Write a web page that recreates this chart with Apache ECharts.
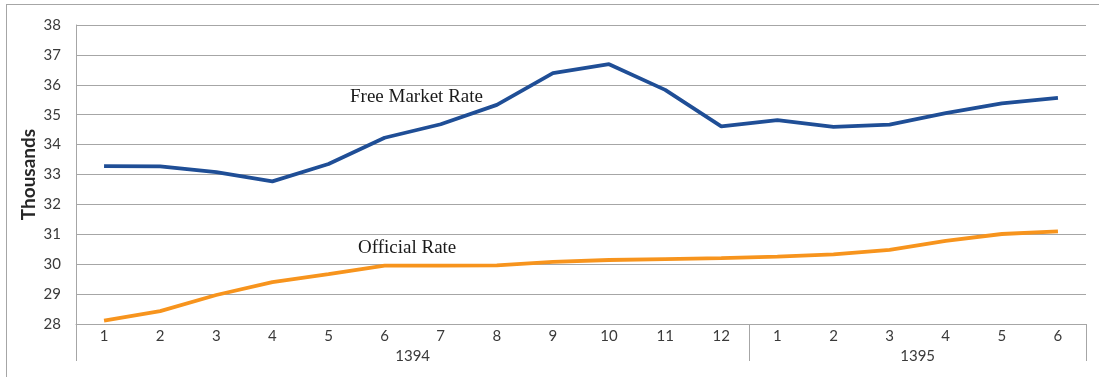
<!DOCTYPE html>
<html>
<head>
<meta charset="utf-8">
<script src="https://cdn.jsdelivr.net/npm/echarts@6/dist/echarts.min.js"></script>
<style>
html,body{margin:0;padding:0;background:#fff;overflow:hidden;}
#frame{position:absolute;left:6px;top:4px;width:1200px;height:500px;border:1px solid #a6a6a6;}
#chart{position:absolute;left:0;top:0;width:1099px;height:377px;}
</style>
</head>
<body>
<div id="frame"></div>
<div id="chart"></div>
<script>
const months = ['1','2','3','4','5','6','7','8','9','10','11','12','1','2','3','4','5','6'];
const years = ['1394','1395'];
const yearCenters = [6, 15];
const yearBounds = [0, 12, 18];
const freeMarket = [33.28,33.27,33.08,32.77,33.35,34.23,34.68,35.33,36.39,36.69,35.83,34.61,34.82,34.59,34.67,35.05,35.38,35.56];
const official = [28.11,28.43,28.97,29.40,29.67,29.95,29.95,29.96,30.08,30.14,30.17,30.20,30.25,30.33,30.48,30.78,31.01,31.10];
const yTicks = {min:28, max:38, interval:1};

const chart = echarts.init(document.getElementById('chart'), null, {renderer:'canvas'});
const lblFont = 'Lato, "Open Sans", sans-serif';
const grey = '#a6a6a6';
chart.setOption({
  animation:false,
  grid:{left:76, right:13, top:25, bottom:53, containLabel:false},
  xAxis:[{
    type:'category', data:months, boundaryGap:true, position:'bottom',
    axisLine:{show:true, lineStyle:{color:grey, width:1}},
    axisTick:{show:false},
    axisLabel:{color:'#3a3a3a', fontFamily:lblFont, fontSize:15, margin:5},
    splitLine:{show:false}
  },{
    type:'value', min:0, max:18, position:'bottom', offset:0,
    axisLine:{show:false},
    axisTick:{show:true, inside:false, length:37, customValues:yearBounds, lineStyle:{color:grey, width:1}},
    axisLabel:{show:true, customValues:yearCenters, margin:25, color:'#3a3a3a', fontFamily:lblFont, fontSize:15,
      formatter:function(v){ const i = yearCenters.indexOf(v); return i>=0 ? years[i] : ''; }},
    splitLine:{show:false}
  }],
  yAxis:{
    type:'value', min:yTicks.min, max:yTicks.max, interval:yTicks.interval,
    name:'Thousands', nameLocation:'middle', nameRotate:90, nameGap:38, nameMoveOverlap:false,
    nameTextStyle:{color:'#262626', fontFamily:lblFont, fontSize:19, fontWeight:'bold'},
    axisLine:{show:true, lineStyle:{color:grey, width:1}},
    axisTick:{show:false},
    axisLabel:{color:'#3a3a3a', fontFamily:lblFont, fontSize:15, margin:15},
    splitLine:{show:true, lineStyle:{color:grey, width:1}}
  },
  series:[{
    name:'Free Market Rate', type:'line', data:freeMarket, xAxisIndex:0,
    symbol:'none', lineStyle:{color:'#1f4e96', width:3.8}, z:3
  },{
    name:'Official Rate', type:'line', data:official, xAxisIndex:0,
    symbol:'none', lineStyle:{color:'#f7941d', width:3.8}, z:3
  }],
  graphic:[
    {type:'text', left:350, top:88, style:{text:'Free Market Rate', font:'19px "Liberation Serif", "DejaVu Serif", serif', fill:'#1a1a1a'}},
    {type:'text', left:358, top:239, style:{text:'Official Rate', font:'19px "Liberation Serif", "DejaVu Serif", serif', fill:'#1a1a1a'}}
  ]
});
</script>
</body>
</html>
